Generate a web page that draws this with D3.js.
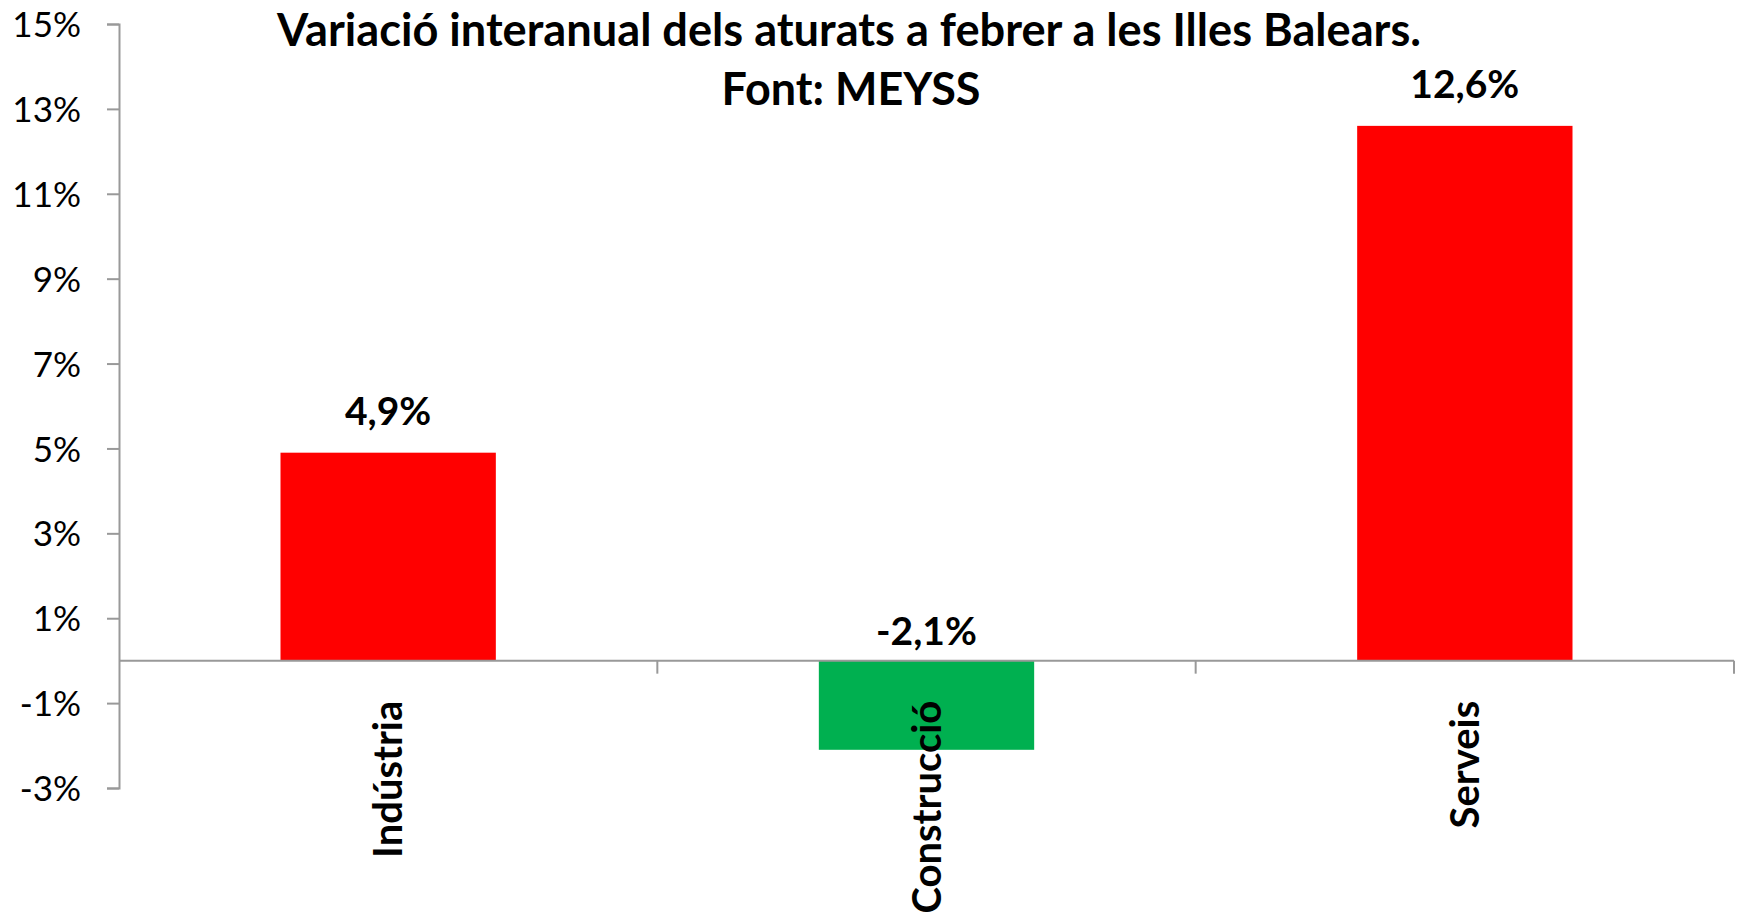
<!DOCTYPE html>
<html>
<head>
<meta charset="utf-8" />
<script src="https://cdn.jsdelivr.net/npm/d3@7"></script>
<style>
  html, body { margin: 0; padding: 0; background: #fff; }
  text { font-family: Lato, "Open Sans", sans-serif; }
</style>
</head>
<body>
<div id="chart"></div>
<script>
// data
const categories = ["Indústria", "Construcció", "Serveis"];
const values = [4.9, -2.1, 12.6];
const yTicks = [-3, -1, 1, 3, 5, 7, 9, 11, 13, 15];
const titleLines = ["Variació interanual dels aturats a febrer a les Illes Balears.", "Font: MEYSS"];

const width = 1737;
const height = 914;
const plotLeft = 119, plotRight = 1734, plotTop = 24, plotBottom = 788;
const axisColor = "#999999";

const svg = d3.select("#chart")
    .append("svg")
    .attr("width", width)
    .attr("height", height);

const x = d3.scaleBand()
    .domain(categories)
    .range([plotLeft, plotRight])
    .paddingInner(0.6)
    .paddingOuter(0.3);

const y = d3.scaleLinear()
    .domain([-3, 15])
    .range([plotBottom, plotTop]);

// bars
svg.selectAll("rect.bar")
    .data(categories)
    .enter()
    .append("rect")
    .attr("class", "bar")
    .attr("x", d => x(d))
    .attr("width", x.bandwidth())
    .attr("y", (d, i) => y(Math.max(0, values[i])))
    .attr("height", (d, i) => Math.abs(y(values[i]) - y(0)))
    .attr("fill", (d, i) => values[i] < 0 ? "#00B050" : "#FF0000");

// y axis
const yAxis = svg.append("g")
    .attr("transform", `translate(${plotLeft},0)`)
    .call(d3.axisLeft(y).tickValues(yTicks).tickSize(12).tickPadding(26).tickFormat(d => d + "%"));
yAxis.select(".domain").attr("stroke", axisColor).attr("stroke-width", 2);
yAxis.selectAll(".tick line").attr("stroke", axisColor).attr("stroke-width", 2);
yAxis.selectAll(".tick text")
    .attr("fill", "#000")
    .style("font-family", "Lato, sans-serif")
    .style("font-size", "35px")
    .attr("dy", "0.36em");

// x axis (zero line) with boundary ticks
const y0 = y(0);
svg.append("line")
    .attr("x1", plotLeft).attr("x2", plotRight)
    .attr("y1", y0).attr("y2", y0)
    .attr("stroke", axisColor).attr("stroke-width", 2);

const step = x.step();
const bounds = categories.map((d, i) => x(d) + x.bandwidth() / 2 + step / 2);
svg.selectAll("line.xtick")
    .data(bounds)
    .enter()
    .append("line")
    .attr("class", "xtick")
    .attr("x1", d => d).attr("x2", d => d)
    .attr("y1", y0).attr("y2", y0 + 13)
    .attr("stroke", axisColor).attr("stroke-width", 2);

// category labels, rotated
svg.selectAll("text.cat")
    .data(categories)
    .enter()
    .append("text")
    .attr("class", "cat")
    .attr("transform", d => `translate(${x(d) + x.bandwidth() / 2 + 14},${y0 + 40}) rotate(-90)`)
    .attr("text-anchor", "end")
    .style("font-size", "40px")
    .style("font-weight", "bold")
    .text(d => d);

// value labels
const fmt = v => v.toFixed(1).replace(".", ",") + "%";
svg.selectAll("text.val")
    .data(categories)
    .enter()
    .append("text")
    .attr("class", "val")
    .attr("x", d => x(d) + x.bandwidth() / 2)
    .attr("y", (d, i) => values[i] >= 0 ? y(values[i]) - 28 : y0 - 16)
    .attr("text-anchor", "middle")
    .style("font-size", "39px")
    .style("font-weight", "bold")
    .text((d, i) => fmt(values[i]));

// title
svg.append("text")
    .attr("x", 849)
    .attr("y", 46)
    .attr("text-anchor", "middle")
    .attr("textLength", 1144)
    .attr("lengthAdjust", "spacingAndGlyphs")
    .style("font-size", "45px")
    .style("font-weight", "bold")
    .text(titleLines[0]);

svg.append("text")
    .attr("x", 851)
    .attr("y", 105)
    .attr("text-anchor", "middle")
    .attr("textLength", 259)
    .attr("lengthAdjust", "spacingAndGlyphs")
    .style("font-size", "45px")
    .style("font-weight", "bold")
    .text(titleLines[1]);
</script>
</body>
</html>
